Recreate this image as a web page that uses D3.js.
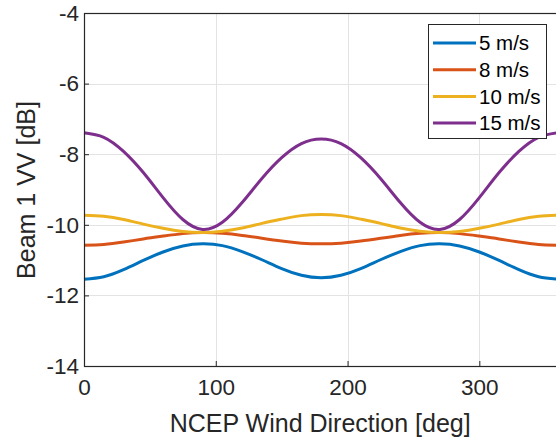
<!DOCTYPE html>
<html>
<head>
<meta charset="utf-8">
<script src="https://cdn.jsdelivr.net/npm/d3@7"></script>
<style>
  html, body { margin: 0; padding: 0; background: #fff; }
  svg { display: block; font-family: "Liberation Sans", Arial, sans-serif; }
</style>
</head>
<body>
<div id="grafico"></div>
<script>
// direção do vento (graus)
const direcao = [0, 15, 30, 45, 60, 75, 90, 105, 120, 135, 150, 165, 180,
                 195, 210, 225, 240, 255, 270, 285, 300, 315, 330, 345, 360];

// valores (dB)
const v5 = [-11.54, -11.47, -11.27, -11.01, -10.77, -10.60, -10.54, -10.59, -10.76, -10.99, -11.24, -11.43, -11.50,
            -11.43, -11.24, -10.99, -10.76, -10.59, -10.54, -10.60, -10.77, -11.01, -11.27, -11.47, -11.54];
const v8 = [-10.58, -10.56, -10.49, -10.40, -10.32, -10.25, -10.22, -10.24, -10.30, -10.38, -10.46, -10.52, -10.54,
            -10.52, -10.46, -10.38, -10.30, -10.24, -10.22, -10.25, -10.32, -10.40, -10.49, -10.56, -10.58];
const v10 = [-9.73, -9.76, -9.85, -9.98, -10.10, -10.19, -10.22, -10.18, -10.09, -9.96, -9.84, -9.74, -9.71,
             -9.74, -9.84, -9.96, -10.09, -10.18, -10.22, -10.19, -10.10, -9.98, -9.85, -9.76, -9.73];
const v15 = [-7.39, -7.52, -7.92, -8.52, -9.23, -9.85, -10.13, -9.93, -9.37, -8.69, -8.10, -7.70, -7.57,
             -7.70, -8.10, -8.69, -9.37, -9.93, -10.13, -9.85, -9.23, -8.52, -7.92, -7.52, -7.39];

const rotulos = ["5 m/s", "8 m/s", "10 m/s", "15 m/s"];
const cores = ["#0072BD", "#D95319", "#EDB120", "#7E2F8E"];
const xTicks = [0, 100, 200, 300];
const yTicks = [-14, -12, -10, -8, -6, -4];

const series = [v5, v8, v10, v15];

// Dimensões
const width = 556;
const height = 442;
const mLeft = 84, mTop = 13, mRight = 558.4, mBottom = 366;
const corTexto = "#262626";

const svg = d3.select("#grafico").append("svg")
    .attr("width", width)
    .attr("height", height)
    .attr("viewBox", [0, 0, width, height]);

const x = d3.scaleLinear().domain([0, 360]).range([mLeft, mRight]);
const y = d3.scaleLinear().domain([-14, -4]).range([mBottom, mTop]);

// grade
const grade = svg.append("g").attr("stroke", "#e3e3e3").attr("stroke-width", 1);
grade.selectAll(".gx").data(xTicks).join("line")
    .attr("x1", d => Math.round(x(d)) + 0.5).attr("x2", d => Math.round(x(d)) + 0.5)
    .attr("y1", mTop).attr("y2", mBottom);
grade.selectAll(".gy").data(yTicks).join("line")
    .attr("x1", mLeft).attr("x2", mRight)
    .attr("y1", d => Math.round(y(d)) + 0.5).attr("y2", d => Math.round(y(d)) + 0.5);

// curvas
const linha = d3.line()
    .x((d, i) => x(direcao[i]))
    .y(d => y(d))
    .curve(d3.curveNatural);

svg.append("g").selectAll("path")
    .data(series)
    .join("path")
    .attr("fill", "none")
    .attr("stroke", (d, i) => cores[i])
    .attr("stroke-width", 3)
    .attr("d", linha);

// eixos (ticks para dentro, estilo MATLAB)
const eixoX = svg.append("g")
    .attr("transform", `translate(0,${mBottom})`)
    .call(d3.axisBottom(x).tickValues(xTicks).tickFormat(d => String(d)).tickSize(-5).tickPadding(13).tickSizeOuter(0))
    .style("font-size", "22.5px");
eixoX.select(".domain").remove();

const eixoY = svg.append("g")
    .attr("transform", `translate(${mLeft},0)`)
    .call(d3.axisLeft(y).tickValues(yTicks).tickFormat(d => String(d)).tickSize(-5).tickPadding(5).tickSizeOuter(0))
    .style("font-size", "22.5px");
eixoY.select(".domain").remove();

svg.selectAll(".tick line").attr("stroke", corTexto);
svg.selectAll(".tick text").attr("fill", corTexto).attr("font-family", "Liberation Sans, Arial, sans-serif");

// caixa
svg.append("rect")
    .attr("x", mLeft + 0.5).attr("y", mTop + 0.5)
    .attr("width", mRight - mLeft).attr("height", mBottom - mTop)
    .attr("fill", "none")
    .attr("stroke", corTexto)
    .attr("stroke-width", 1.2);

// rótulos dos eixos
svg.append("text")
    .attr("x", (mLeft + mRight) / 2 - 1)
    .attr("y", 432)
    .attr("text-anchor", "middle")
    .attr("fill", corTexto)
    .style("font-size", "25px")
    .text("NCEP Wind Direction [deg]");

svg.append("text")
    .attr("transform", `translate(35,190) rotate(-90)`)
    .attr("text-anchor", "middle")
    .attr("fill", corTexto)
    .style("font-size", "25px")
    .text("Beam 1 VV [dB]");

// legenda
const leg = svg.append("g");
leg.append("rect")
    .attr("x", 428.5).attr("y", 24.5)
    .attr("width", 118).attr("height", 114)
    .attr("fill", "#fff")
    .attr("stroke", corTexto)
    .attr("stroke-width", 1);

const itens = leg.selectAll(".item")
    .data(rotulos)
    .join("g")
    .attr("transform", (d, i) => `translate(0,${43 + i * 26.7})`);
itens.append("line")
    .attr("x1", 433).attr("x2", 476)
    .attr("stroke", (d, i) => cores[i])
    .attr("stroke-width", 3);
itens.append("text")
    .attr("x", 479)
    .attr("dy", "0.36em")
    .attr("fill", "#000")
    .style("font-size", "20.5px")
    .text(d => d);
</script>
</body>
</html>
